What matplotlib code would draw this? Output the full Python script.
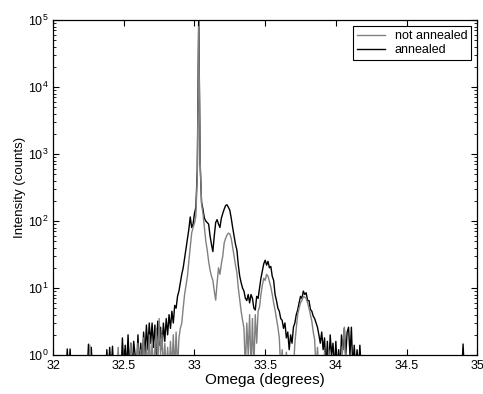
import matplotlib.pyplot as plt
import numpy as np

plt.rcParams['font.family'] = ['Liberation Sans', 'DejaVu Sans']
plt.rcParams['mathtext.default'] = 'regular'

# sparse baseline spikes (x in degrees, intensity in counts)
black_lo_x = [32.00, 32.09, 32.10, 32.11, 32.12, 32.13, 32.24, 32.25, 32.26, 32.27, 32.28,
              32.37, 32.38, 32.39, 32.40, 32.41, 32.42, 32.43, 32.48, 32.49, 32.50, 32.51,
              32.52, 32.53, 32.54, 32.55, 32.56, 32.57, 32.58, 32.59]
black_lo_y = [0.5, 0.5, 1.23, 0.5, 1.23, 0.5, 0.5, 1.45, 0.5, 1.3, 0.5,
              0.5, 1.2, 0.5, 1.3, 0.6, 1.35, 0.5, 0.5, 1.8, 0.6, 1.4,
              0.6, 2.0, 0.6, 1.5, 0.6, 1.6, 1.0, 0.6]

# main region, 32.60 .. 34.18 step 0.01
main_x = np.round(np.arange(32.60, 34.185, 0.01), 2)
black_main = [2.0, 0.6, 1.5, 0.6, 2.2, 1.0, 2.8, 1.2, 3.0, 1.5,
              3.0, 1.3, 2.8, 1.0, 3.2, 1.4, 2.6, 1.2, 3.0, 1.6,
              3.5, 2.0, 4.0, 2.5, 4.5, 3.0, 5.5, 5.0, 7.5, 9,
              12, 16, 20, 28, 40, 55, 75, 115, 80, 90,
              130, 160, 600, 120000, 700, 190, 150, 110, 100, 95,
              90, 60, 45, 35, 60, 95, 105, 90, 80, 110,
              130, 150, 170, 175, 160, 145, 110, 80, 60, 45,
              37, 22, 15, 12, 10, 9, 7, 6.5, 8, 6,
              8, 7, 5, 4.7, 7.5, 7, 10, 14, 18, 23,
              26, 22, 25, 20, 21, 15, 13, 8, 6.5, 5,
              4.5, 3.5, 3.3, 2.5, 3.0, 1.8, 2.2, 1.2, 2.0, 1.5,
              2.6, 3.0, 4.0, 4.7, 6, 7.5, 7, 9, 8, 8.5,
              6.5, 6.5, 4.8, 4.5, 3.8, 3.5, 3.0, 2.6, 2.0, 1.5,
              2.2, 1.2, 1.8, 0.6, 1.6, 0.6, 2.0, 1.0, 1.5, 0.6,
              1.6, 0.6, 1.2, 0.6, 2.0, 1.2, 2.5, 1.0, 2.2, 2.6,
              1.0, 2.6, 0.6, 1.4, 0.6, 1.2, 0.6, 1.4, 0.6]
gray_main = [1.5, 0.6, 1.2, 0.6, 1.8, 0.6, 1.4, 0.6, 2.0, 0.6,
             1.5, 0.6, 1.2, 2.5, 0.6, 3.5, 1.0, 2.0, 0.6, 1.5,
             0.6, 1.3, 0.6, 1.6, 0.6, 2.0, 0.6, 2.2, 0.6, 1.8,
             2.5, 3.0, 5, 8, 11, 15, 25, 40, 66, 80,
             93, 120, 500, 80000, 800, 180, 130, 80, 50, 37,
             25, 18.6, 15, 13, 9, 6.6, 12, 20, 16, 23,
             30, 47, 55, 62, 66, 64, 55, 41, 30, 22,
             17, 10, 6.6, 4.5, 3.3, 2.5, 0.6, 3.0, 1.0, 4.0,
             0.6, 3.5, 0.6, 4.0, 1.5, 4.5, 5.2, 8, 11, 14,
             13, 16, 15, 12.5, 10.4, 8, 6, 4.7, 3.5, 2.6,
             1.8, 0.6, 1.2, 0.6, 0.6, 1.1, 0.6, 0.6, 0.6, 0.6,
             0.6, 1.5, 2.5, 4, 5, 6, 6.5, 7.5, 7.3, 7.0,
             6, 5, 4, 3.2, 2.2, 1.7, 0.6, 1.3, 0.6, 0.6,
             0.6, 0.6, 1.1, 0.6, 0.6, 1.2, 0.6, 0.6, 0.6, 0.6,
             0.6, 0.6, 0.6, 0.6, 0.6, 1.5, 2.6, 0.6, 0.6, 0.6,
             0.6, 0.6, 0.6, 0.6, 0.6, 0.6, 0.6, 0.6, 0.6]

black_hi_x = [34.19, 34.89, 34.90, 34.91, 35.00]
black_hi_y = [0.5, 0.5, 1.46, 0.5, 0.5]

gray_lo_x = [32.00, 32.25, 32.26, 32.27, 32.45, 32.46, 32.47, 32.54, 32.55, 32.56, 32.59]
gray_lo_y = [0.5, 0.5, 1.4, 0.5, 0.5, 1.3, 0.5, 0.5, 1.5, 0.5, 0.6]
gray_hi_x = [34.19, 35.00]
gray_hi_y = [0.5, 0.5]

black_x = list(black_lo_x) + list(main_x) + black_hi_x
black_y = black_lo_y + black_main + black_hi_y
gray_x = list(gray_lo_x) + list(main_x) + gray_hi_x
gray_y = gray_lo_y + gray_main + gray_hi_y

fig = plt.figure(figsize=(4.83, 3.94), dpi=100)
ax = fig.add_axes([0.110, 0.099, 0.878, 0.850])

ax.semilogy(black_x, black_y, color='black', lw=1.0, zorder=2, label='annealed')
ax.semilogy(gray_x, gray_y, color='#808080', lw=1.0, zorder=3, label='not annealed')

ax.set_xlim(32, 35)
ax.set_ylim(1, 1e5)
ax.set_xticks([32, 32.5, 33, 33.5, 34, 34.5, 35])
ax.set_xticklabels(['32', '32.5', '33', '33.5', '34', '34.5', '35'])
ax.tick_params(which='both', direction='in', top=True, right=True, labelsize=9)
ax.tick_params(which='major', length=4, width=0.8)
ax.tick_params(which='minor', length=2, width=0.6)
for s in ax.spines.values():
    s.set_linewidth(0.9)

ax.set_xlabel('Omega (degrees)', fontsize=11, labelpad=1)
ax.set_ylabel('Intensity (counts)', fontsize=9.5, labelpad=1)

h, l = ax.get_legend_handles_labels()
leg = ax.legend(h[::-1], l[::-1], loc='upper right', fontsize=9, fancybox=False,
                framealpha=1, edgecolor='black', borderaxespad=0.5,
                handlelength=2.2, borderpad=0.3, labelspacing=0.15)
leg.get_frame().set_linewidth(0.8)

fig.savefig('out.png', dpi=100)
